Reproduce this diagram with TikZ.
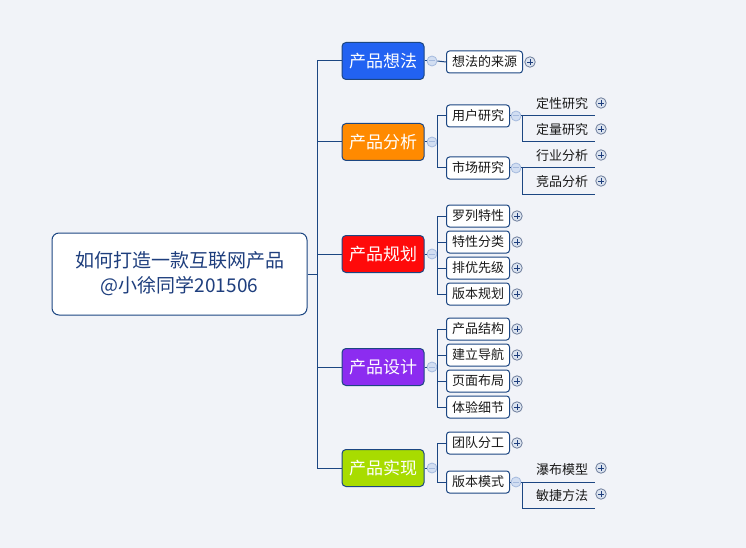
\documentclass[tikz,border=0pt]{standalone}
\usepackage{fontspec}
\setmainfont{Noto Sans CJK SC}
\definecolor{bg}{RGB}{241,243,248}
\definecolor{lineblue}{RGB}{28,70,130}
\definecolor{rootblue}{RGB}{30,62,125}
\definecolor{textdark}{RGB}{25,25,25}
\definecolor{cblue}{RGB}{34,98,242}
\definecolor{corange}{RGB}{255,138,0}
\definecolor{cred}{RGB}{255,10,10}
\definecolor{cpurple}{RGB}{140,44,240}
\definecolor{cgreen}{RGB}{168,220,0}
\definecolor{minusfill}{RGB}{210,222,242}
\definecolor{minusdraw}{RGB}{165,186,222}
\definecolor{plusfill}{RGB}{220,228,240}
\definecolor{plusdraw}{RGB}{110,125,155}
\tikzset{
  ln/.style={draw=lineblue, line width=1pt},
  rootbox/.style={draw=lineblue, fill=white, line width=1pt, rounded corners=7pt,
    minimum width=255pt, minimum height=82pt, inner sep=0pt, align=center,
    text=rootblue, font=\fontsize{19}{25}\selectfont},
  mainbox/.style={draw=lineblue, line width=1pt, rounded corners=4pt,
    minimum width=82pt, minimum height=37pt, inner sep=0pt, text=white,
    font=\fontsize{17}{18}\selectfont},
  subbox/.style={draw=lineblue, fill=white, line width=1pt, rounded corners=3pt,
    minimum height=22pt, inner xsep=5.5pt, inner ysep=0pt, anchor=west,
    text=textdark, font=\fontsize{13}{15}\selectfont},
  leaf/.style={minimum width=73pt, minimum height=24pt, inner sep=0pt, anchor=south west,
    text=textdark, font=\fontsize{13}{15}\selectfont},
  minus/.style={circle, draw=minusdraw, fill=minusfill, line width=0.8pt,
    minimum size=10pt, inner sep=0pt,
    path picture={\draw[minusdraw, line width=1pt] ([xshift=-2.8pt]path picture bounding box.center) -- ([xshift=2.8pt]path picture bounding box.center);}},
  plus/.style={circle, draw=plusdraw, fill=plusfill, line width=0.8pt,
    minimum size=10.5pt, inner sep=0pt,
    path picture={\draw[rootblue, line width=0.9pt] ([xshift=-2.6pt]path picture bounding box.center) -- ([xshift=2.6pt]path picture bounding box.center)
      ([yshift=-2.6pt]path picture bounding box.center) -- ([yshift=2.6pt]path picture bounding box.center);}}
}
\begin{document}
\begin{tikzpicture}[x=1pt, y=-1pt]
\fill[bg] (0,0) rectangle (746,548);
\useasboundingbox (0,0) rectangle (746,548);

% root
\node[rootbox] (root) at (179.5,274) {如何打造一款互联网产品\\@小徐同学201506};
\coordinate (t) at (317,274);

% main topics
\node[mainbox, fill=cblue]   (m1) at (383,61)  {产品想法};
\node[mainbox, fill=corange] (m2) at (383,142) {产品分析};
\node[mainbox, fill=cred]    (m3) at (383,254) {产品规划};
\node[mainbox, fill=cpurple] (m4) at (383,367) {产品设计};
\node[mainbox, fill=cgreen]  (m5) at (383,468) {产品实现};

\draw[ln] (root.east) -- (t);
\foreach \m in {m1,m2,m3,m4,m5} { \draw[ln] (t) |- (\m.west); }

% collapse circles
\node[minus] (c1) at (432,61) {};
\node[minus] (c2) at (432,142) {};
\node[minus] (c3) at (432,254) {};
\node[minus] (c4) at (432,367) {};
\node[minus] (c5) at (432,468) {};
\foreach \i in {1,...,5} { \draw[ln] (m\i.east) -- (c\i.west); }

\coordinate (j2) at (437,142);
\coordinate (j3) at (437,254);
\coordinate (j4) at (437,367);
\coordinate (j5) at (437,468);

% sub topics
\node[subbox] (s11) at (446,62) {想法的来源};
\node[subbox] (s21) at (446,116) {用户研究};
\node[subbox] (s22) at (446,168) {市场研究};
\node[subbox] (s31) at (446,216) {罗列特性};
\node[subbox] (s32) at (446,242) {特性分类};
\node[subbox] (s33) at (446,268) {排优先级};
\node[subbox] (s34) at (446,294) {版本规划};
\node[subbox] (s41) at (446,329) {产品结构};
\node[subbox] (s42) at (446,355) {建立导航};
\node[subbox] (s43) at (446,381) {页面布局};
\node[subbox] (s44) at (446,407) {体验细节};
\node[subbox] (s51) at (446,443) {团队分工};
\node[subbox] (s52) at (446,482) {版本模式};

\draw[ln] (c1.east) -- (s11.west);
\draw[ln] (c2.east) -- (j2); \draw[ln] (j2) |- (s21.west); \draw[ln] (j2) |- (s22.west);
\draw[ln] (c3.east) -- (j3);
\foreach \s in {s31,s32,s33,s34} { \draw[ln] (j3) |- (\s.west); }
\draw[ln] (c4.east) -- (j4);
\foreach \s in {s41,s42,s43,s44} { \draw[ln] (j4) |- (\s.west); }
\draw[ln] (c5.east) -- (j5); \draw[ln] (j5) |- (s51.west); \draw[ln] (j5) |- (s52.west);

% plus markers for sub topics
\node[plus] (p11) at (530,62) {};
\node[plus] (p31) at (517,216) {};
\node[plus] (p32) at (517,242) {};
\node[plus] (p33) at (517,268) {};
\node[plus] (p34) at (517,294) {};
\node[plus] (p41) at (517,329) {};
\node[plus] (p42) at (517,355) {};
\node[plus] (p43) at (517,381) {};
\node[plus] (p44) at (517,407) {};
\node[plus] (p51) at (517,443) {};

% collapse circles for sub topics with children
\node[minus] (c21) at (516,116) {};
\node[minus] (c22) at (516,168) {};
\node[minus] (c52) at (516,482) {};
\draw[ln] (s21.east) -- (c21.west);
\draw[ln] (s22.east) -- (c22.west);
\draw[ln] (s52.east) -- (c52.west);

% leaves
\node[leaf] (l1) at (522,116) {\hspace*{7pt}定性研究};
\node[leaf] (l2) at (522,142) {\hspace*{7pt}定量研究};
\node[leaf] (l3) at (522,168) {\hspace*{7pt}行业分析};
\node[leaf] (l4) at (522,194) {\hspace*{7pt}竞品分析};
\node[leaf] (l5) at (522,482) {\hspace*{7pt}瀑布模型};
\node[leaf] (l6) at (522,508) {\hspace*{7pt}敏捷方法};
\foreach \l in {l1,l2,l3,l4,l5,l6} { \draw[ln] (\l.south west) -- (\l.south east); }

\draw[ln] (c21.east) -- (l1.south west); \draw[ln] (l1.south west) -- (l2.south west);
\draw[ln] (c22.east) -- (l3.south west); \draw[ln] (l3.south west) -- (l4.south west);
\draw[ln] (c52.east) -- (l5.south west); \draw[ln] (l5.south west) -- (l6.south west);

\node[plus] (q1) at (601,103) {};
\node[plus] (q2) at (601,129) {};
\node[plus] (q3) at (601,155) {};
\node[plus] (q4) at (601,181) {};
\node[plus] (q5) at (601,468) {};
\node[plus] (q6) at (601,494) {};
\end{tikzpicture}
\end{document}
